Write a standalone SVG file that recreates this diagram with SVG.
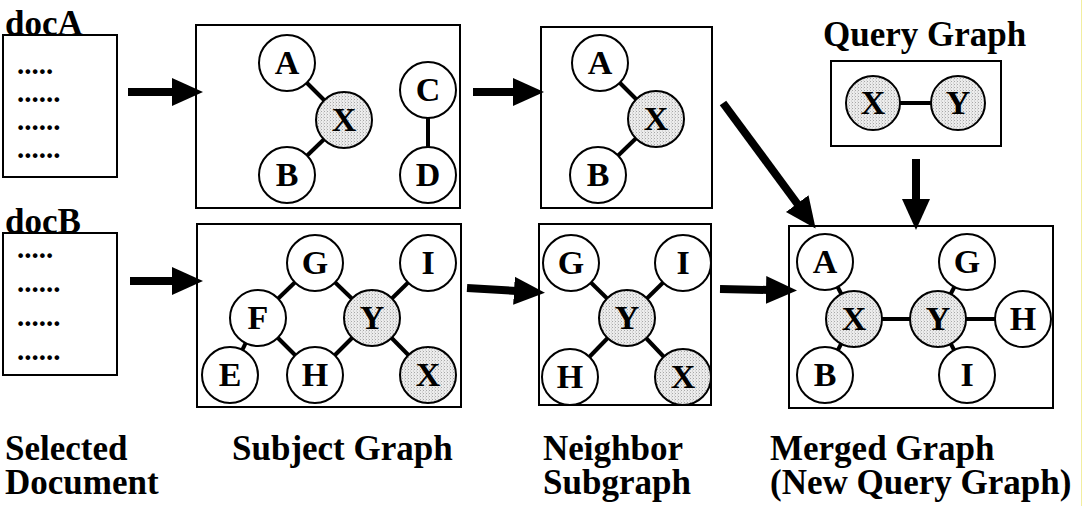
<svg xmlns="http://www.w3.org/2000/svg" width="1083" height="506" viewBox="0 0 1083 506">
<defs>
<pattern id="stip" width="3" height="3" patternUnits="userSpaceOnUse">
<rect width="3" height="3" fill="#ececec"/>
<rect x="0" y="0" width="1" height="1" fill="#a8a8a8"/>
<rect x="2" y="1.5" width="1" height="1" fill="#c4c4c4"/>
</pattern>
<marker id="ah" markerUnits="userSpaceOnUse" markerWidth="34" markerHeight="32" viewBox="0 -15 34 30" refX="3" refY="0" orient="auto">
<path d="M0,-14 L31,0 L0,14 z" fill="#000"/>
</marker>
</defs>
<style>
.box{fill:#fff;stroke:#000;stroke-width:2}
.n{fill:#fff;stroke:#000;stroke-width:2}
.q{fill:url(#stip);stroke:#000;stroke-width:2}
.e{stroke:#000;stroke-width:4}
.t{font-family:"Liberation Serif","Times New Roman",serif;font-weight:bold;font-size:34px;text-anchor:middle}
.lab{font-family:"Liberation Serif","Times New Roman",serif;font-weight:bold;font-size:35px}
.dots{font-family:"Liberation Serif","Times New Roman",serif;font-weight:bold;font-size:29px}
.arr{stroke:#000;stroke-width:8;fill:none;marker-end:url(#ah)}
</style>
<rect width="1083" height="506" fill="#fff"/>
<line x1="1081.5" y1="0" x2="1081.5" y2="506" stroke="#f2eea0" stroke-width="1"/>

<g id="docA">
<rect class="box" x="3" y="35" width="114" height="142"/>
<text class="lab" x="5" y="35">docA</text>
<text class="dots" x="17" y="74">.....</text>
<text class="dots" x="17" y="102">......</text>
<text class="dots" x="17" y="130">......</text>
<text class="dots" x="17" y="158">......</text>
</g>
<g id="docB">
<rect class="box" x="3" y="233" width="114" height="142"/>
<text class="lab" x="5" y="233">docB</text>
<text class="dots" x="17" y="258">.....</text>
<text class="dots" x="17" y="292">......</text>
<text class="dots" x="17" y="326">......</text>
<text class="dots" x="17" y="360">......</text>
</g>

<g id="subjectA-box"><rect class="box" x="196" y="25" width="264" height="183"/></g>
<g id="neighborA-box"><rect class="box" x="541" y="27" width="171" height="181"/></g>
<g id="query-box"><rect class="box" x="831" y="61" width="170" height="85"/></g>
<g id="subjectB-box"><rect class="box" x="197" y="224" width="264" height="183"/></g>
<g id="neighborB-box"><rect class="box" x="539" y="224" width="172" height="181"/></g>
<g id="merged-box"><rect class="box" x="789" y="226" width="264" height="182"/></g>

<g id="connectors">
<line class="e" x1="287" y1="63" x2="344" y2="120"/>
<line class="e" x1="287" y1="175" x2="344" y2="120"/>
<line class="e" x1="428" y1="90" x2="428" y2="175"/>
<line class="e" x1="600" y1="63" x2="656" y2="119"/>
<line class="e" x1="598" y1="175" x2="656" y2="119"/>
<line class="e" x1="873" y1="103" x2="958" y2="103"/>
<line class="e" x1="258" y1="318" x2="315" y2="263"/>
<line class="e" x1="315" y1="263" x2="372" y2="318"/>
<line class="e" x1="258" y1="318" x2="315" y2="375"/>
<line class="e" x1="315" y1="375" x2="372" y2="318"/>
<line class="e" x1="372" y1="318" x2="428" y2="263"/>
<line class="e" x1="372" y1="318" x2="428" y2="375"/>
<line class="e" x1="230" y1="375" x2="258" y2="318"/>
<line class="e" x1="571" y1="263" x2="627" y2="318"/>
<line class="e" x1="683" y1="263" x2="627" y2="318"/>
<line class="e" x1="570" y1="377" x2="627" y2="318"/>
<line class="e" x1="683" y1="377" x2="627" y2="318"/>
<line class="e" x1="825" y1="262" x2="854" y2="319"/>
<line class="e" x1="825" y1="375" x2="854" y2="319"/>
<line class="e" x1="854" y1="319" x2="938" y2="319"/>
<line class="e" x1="938" y1="319" x2="967" y2="262"/>
<line class="e" x1="938" y1="319" x2="967" y2="375"/>
<line class="e" x1="938" y1="319" x2="1023" y2="319"/>
<line class="arr" x1="128" y1="92" x2="175" y2="92"/>
<line class="arr" x1="473" y1="92" x2="516" y2="92"/>
<line class="arr" x1="723" y1="103" x2="799" y2="206"/>
<line class="arr" x1="916" y1="159" x2="916" y2="202"/>
<line class="arr" x1="130" y1="281" x2="175" y2="281"/>
<line class="arr" x1="467" y1="288" x2="517" y2="291"/>
<line class="arr" x1="720" y1="289" x2="769" y2="290"/>
</g>

<g id="sA-A"><circle class="n" cx="287" cy="63" r="28"/><text class="t" x="287" y="74">A</text></g>
<g id="sA-X"><circle class="q" cx="344" cy="120" r="28"/><text class="t" x="344" y="131">X</text></g>
<g id="sA-B"><circle class="n" cx="287" cy="175" r="28"/><text class="t" x="287" y="186">B</text></g>
<g id="sA-C"><circle class="n" cx="428" cy="90" r="28"/><text class="t" x="428" y="101">C</text></g>
<g id="sA-D"><circle class="n" cx="428" cy="175" r="28"/><text class="t" x="428" y="186">D</text></g>

<g id="nA-A"><circle class="n" cx="600" cy="63" r="28"/><text class="t" x="600" y="74">A</text></g>
<g id="nA-X"><circle class="q" cx="656" cy="119" r="28"/><text class="t" x="656" y="130">X</text></g>
<g id="nA-B"><circle class="n" cx="598" cy="175" r="28"/><text class="t" x="598" y="186">B</text></g>

<g id="q-X"><circle class="q" cx="873" cy="103" r="27"/><text class="t" x="873" y="114">X</text></g>
<g id="q-Y"><circle class="q" cx="958" cy="103" r="27"/><text class="t" x="958" y="114">Y</text></g>

<g id="sB-G"><circle class="n" cx="315" cy="263" r="28"/><text class="t" x="315" y="274">G</text></g>
<g id="sB-I"><circle class="n" cx="428" cy="263" r="28"/><text class="t" x="428" y="274">I</text></g>
<g id="sB-F"><circle class="n" cx="258" cy="318" r="28"/><text class="t" x="258" y="329">F</text></g>
<g id="sB-Y"><circle class="q" cx="372" cy="318" r="28"/><text class="t" x="372" y="329">Y</text></g>
<g id="sB-E"><circle class="n" cx="230" cy="375" r="28"/><text class="t" x="230" y="386">E</text></g>
<g id="sB-H"><circle class="n" cx="315" cy="375" r="28"/><text class="t" x="315" y="386">H</text></g>
<g id="sB-X"><circle class="q" cx="428" cy="375" r="28"/><text class="t" x="428" y="386">X</text></g>

<g id="nB-G"><circle class="n" cx="571" cy="263" r="28"/><text class="t" x="571" y="274">G</text></g>
<g id="nB-I"><circle class="n" cx="683" cy="263" r="28"/><text class="t" x="683" y="274">I</text></g>
<g id="nB-Y"><circle class="q" cx="627" cy="318" r="28"/><text class="t" x="627" y="329">Y</text></g>
<g id="nB-H"><circle class="n" cx="570" cy="377" r="28"/><text class="t" x="570" y="388">H</text></g>
<g id="nB-X"><circle class="q" cx="683" cy="377" r="28"/><text class="t" x="683" y="388">X</text></g>

<g id="m-A"><circle class="n" cx="825" cy="262" r="28"/><text class="t" x="825" y="273">A</text></g>
<g id="m-X"><circle class="q" cx="854" cy="319" r="28"/><text class="t" x="854" y="330">X</text></g>
<g id="m-B"><circle class="n" cx="825" cy="375" r="28"/><text class="t" x="825" y="386">B</text></g>
<g id="m-G"><circle class="n" cx="967" cy="262" r="28"/><text class="t" x="967" y="273">G</text></g>
<g id="m-Y"><circle class="q" cx="938" cy="319" r="28"/><text class="t" x="938" y="330">Y</text></g>
<g id="m-H"><circle class="n" cx="1023" cy="319" r="28"/><text class="t" x="1023" y="330">H</text></g>
<g id="m-I"><circle class="n" cx="967" cy="375" r="28"/><text class="t" x="967" y="386">I</text></g>

<g id="labels">
<text class="lab" x="823" y="46">Query Graph</text>
<text class="lab" x="5" y="460">Selected</text>
<text class="lab" x="5" y="494">Document</text>
<text class="lab" x="232" y="460">Subject Graph</text>
<text class="lab" x="543" y="460">Neighbor</text>
<text class="lab" x="543" y="494">Subgraph</text>
<text class="lab" x="770" y="460">Merged Graph</text>
<text class="lab" x="770" y="494">(New Query Graph)</text>
</g>
</svg>
